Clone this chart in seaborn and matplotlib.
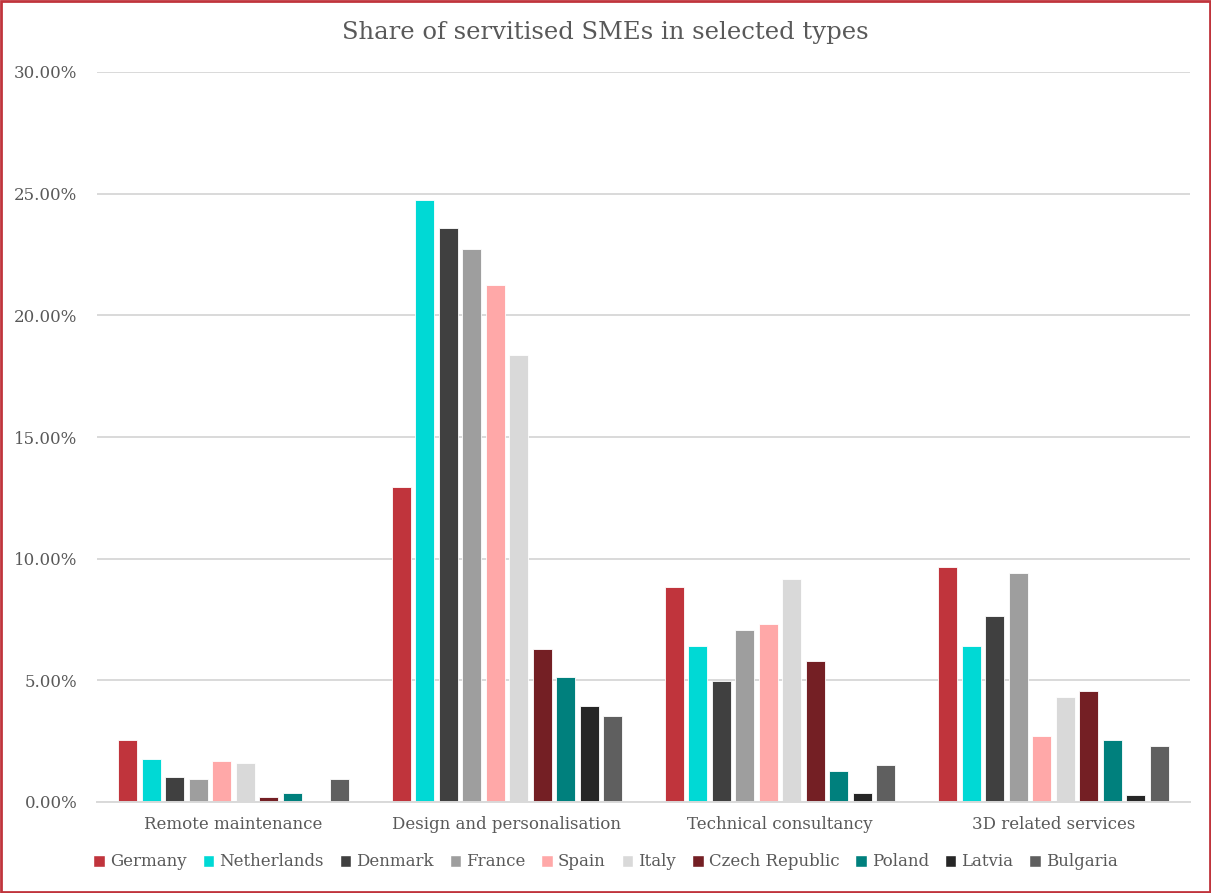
import matplotlib
matplotlib.use("Agg")
import matplotlib.pyplot as plt
from matplotlib.patches import Rectangle
from matplotlib.ticker import PercentFormatter, MultipleLocator
import pandas as pd
import seaborn as sns

service_types = ["Remote maintenance", "Design and personalisation",
                 "Technical consultancy", "3D related services"]
countries = ["Germany", "Netherlands", "Denmark", "France", "Spain", "Italy",
             "Czech Republic", "Poland", "Latvia", "Bulgaria"]

# share of servitised SMEs (%), one list per service type, in country order
remote_maintenance = [2.55, 1.77, 1.02, 0.93, 1.68, 1.60, 0.19, 0.37, 0.05, 0.93]
design_personalisation = [12.93, 24.74, 23.58, 22.74, 21.24, 18.38, 6.30, 5.12, 3.96, 3.53]
technical_consultancy = [8.82, 6.40, 4.97, 7.06, 7.32, 9.15, 5.81, 1.27, 0.36, 1.52]
related_3d = [9.66, 6.40, 7.64, 9.41, 2.70, 4.30, 4.55, 2.54, 0.27, 2.29]

colors = ["#C0343C", "#00D9D5", "#404040", "#9E9E9E", "#FFA8A8",
          "#D9D9D9", "#741F24", "#00807D", "#262626", "#5F5F5F"]

series = [remote_maintenance, design_personalisation, technical_consultancy, related_3d]
rows = []
for stype, values in zip(service_types, series):
    for country, v in zip(countries, values):
        rows.append({"type": stype, "country": country, "share": v})
df = pd.DataFrame(rows)

sns.set_theme(style="white")
plt.rcParams["font.family"] = ["DejaVu Serif"]

fig = plt.figure(figsize=(12.11, 8.93), dpi=100)
ax = fig.add_axes([97 / 1211, 1 - 802 / 893, 1093 / 1211, 730 / 893])

sns.barplot(data=df, x="type", y="share", hue="country", order=service_types,
            hue_order=countries, palette=colors, saturation=1, width=0.86, gap=0.2,
            edgecolor="white", linewidth=0.6, ax=ax, legend=False)

ax.set_ylim(0, 30)
ax.yaxis.set_major_locator(MultipleLocator(5))
ax.yaxis.set_major_formatter(PercentFormatter(decimals=2))
ax.grid(axis="y", color="#D9D9D9", linewidth=1.4)
ax.set_axisbelow(True)
for side in ["left", "right", "top"]:
    ax.spines[side].set_visible(False)
ax.spines["bottom"].set_color("#D9D9D9")
ax.spines["bottom"].set_linewidth(1.4)
ax.set_xlabel("")
ax.set_ylabel("")
ax.tick_params(axis="both", length=0, labelsize=12, colors="#595959")
ax.tick_params(axis="y", pad=14)
ax.tick_params(axis="x", pad=10)

fig.text(0.5, 1 - 33 / 893, "Share of servitised SMEs in selected types",
         ha="center", va="center", fontsize=17.5, color="#595959")

handles = [Rectangle((0, 0), 1, 1, facecolor=c) for c in colors]
fig.legend(handles, countries, loc="center", bbox_to_anchor=(0.5, 1 - 862 / 893),
           ncol=10, frameon=False, fontsize=12, handlelength=0.7, handleheight=0.7,
           handletextpad=0.3, columnspacing=0.95, labelcolor="#595959")

fig.patches.append(Rectangle((0.001, 0.001), 0.998, 0.998, transform=fig.transFigure,
                             fill=False, edgecolor="#C0343C", linewidth=2))

fig.savefig("out.png", dpi=100)
